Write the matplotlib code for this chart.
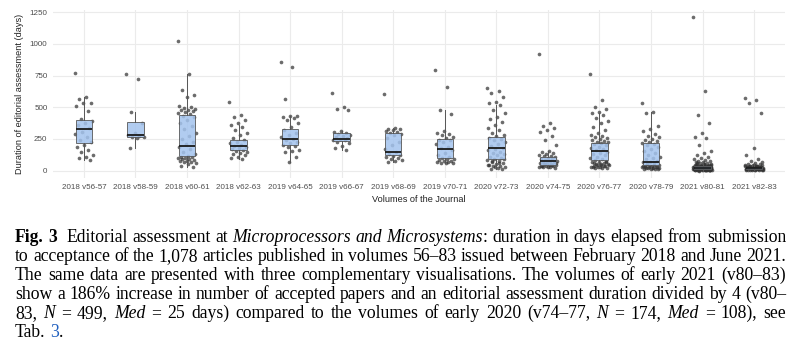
import matplotlib
matplotlib.use("Agg")
import matplotlib.pyplot as plt

# volumes of the journal (x categories)
volumes = ["2018 v56-57", "2018 v58-59", "2018 v60-61", "2018 v62-63",
           "2019 v64-65", "2019 v66-67", "2019 v68-69", "2019 v70-71",
           "2020 v72-73", "2020 v74-75", "2020 v76-77", "2020 v78-79",
           "2021 v80-81", "2021 v82-83"]

# box statistics (days)
q1 = [216, 268, 116, 163, 200, 237, 121, 100, 90, 43, 84, 43, 14, 12]
med = [327, 284, 197, 195, 250, 253, 145, 174, 182, 74, 153, 69, 24, 20]
q3 = [400, 382, 437, 242, 329, 300, 300, 248, 263, 106, 216, 216, 38, 30]
whislo = [84, 179, 27, 90, 65, 163, 71, 58, 10, 22, 20, 12, 1, 2]
whishi = [579, 461, 765, 360, 435, 310, 335, 479, 520, 155, 453, 466, 72, 58]

# individual articles (duration in days), one list per volume pair
v56_57 = [769, 579, 563, 537, 532, 511, 474, 406, 395, 374, 360, 335, 308, 290,
          268, 242, 230, 203, 190, 163, 150, 124, 110, 98, 84]
v58_59 = [763, 721, 461, 380, 300, 285, 275, 268, 262, 255, 179]
v60_61 = [1026, 765, 640, 600, 580, 510, 500, 492, 485, 480, 478, 470, 465, 455,
          445, 435, 420, 400, 380, 355, 330, 300, 275, 250, 230, 210, 190, 170,
          150, 130, 118, 110, 104, 100, 96, 92, 88, 84, 80, 76, 72, 65, 58, 50,
          40, 27]
v62_63 = [545, 440, 420, 400, 380, 360, 345, 320, 300, 280, 260, 245, 230, 215,
          200, 192, 185, 178, 170, 165, 158, 150, 140, 130, 120, 110, 100, 90]
v64_65 = [860, 816, 566, 435, 430, 422, 415, 400, 380, 345, 320, 300, 280, 265,
          250, 240, 230, 215, 205, 195, 190, 160, 155, 150, 110, 65]
v66_67 = [611, 505, 490, 480, 310, 305, 298, 290, 280, 270, 262, 255, 250, 245,
          238, 230, 215, 195, 175, 163]
v68_69 = [603, 335, 330, 325, 318, 310, 305, 298, 290, 280, 260, 230, 200, 170,
          145, 135, 125, 118, 110, 100, 92, 85, 78, 71]
v70_71 = [795, 663, 479, 445, 310, 300, 290, 280, 265, 255, 245, 240, 230, 210,
          190, 175, 160, 140, 120, 105, 98, 92, 88, 84, 80, 76, 72, 68, 64, 60, 58]
v72_73 = [650, 632, 611, 579, 545, 537, 520, 479, 453, 427, 405, 387, 361, 334,
          321, 295, 280, 270, 260, 250, 240, 225, 210, 195, 180, 170, 160, 150,
          140, 130, 120, 110, 100, 92, 85, 78, 70, 62, 55, 48, 40, 34, 28, 22,
          16, 10, 30, 45, 60, 75, 95]
v74_75 = [921, 374, 350, 335, 320, 305, 270, 240, 200, 155, 145, 138, 130, 124,
          118, 112, 106, 100, 95, 90, 85, 80, 76, 72, 68, 64, 60, 56, 52, 48, 44,
          40, 37, 34, 31, 28, 25, 22, 30, 35, 42, 50, 58]
v76_77 = [761, 558, 500, 484, 466, 453, 440, 413, 395, 374, 348, 321, 300, 282,
          270, 263, 255, 248, 242, 236, 230, 224, 218, 210, 200, 190, 180, 170,
          160, 150, 140, 130, 120, 110, 100, 92, 84, 78, 72, 66, 60, 55, 50, 45,
          40, 36, 32, 28, 24, 20, 22, 26, 30, 35, 42, 48, 54, 62, 70]
v78_79 = [537, 466, 455, 350, 330, 310, 290, 275, 262, 250, 242, 235, 228, 220,
          210, 200, 185, 170, 155, 140, 125, 110, 100, 90, 80, 72, 65, 58, 52, 46,
          40, 36, 32, 28, 25, 22, 19, 16, 14, 12, 15, 18, 21, 24, 27, 30, 34, 38,
          44, 50]
v80_81 = [1210, 629, 440, 379, 300, 263, 258, 203, 158, 140, 125, 110, 100, 92,
          85, 80, 75, 70, 66, 62, 58, 55, 52, 49, 46, 44, 42, 40, 38, 36, 34, 32,
          31, 30, 29, 28, 27, 26, 25, 24, 23, 22, 21, 20, 19, 18, 17, 16, 15, 14,
          13, 12, 11, 10, 9, 8, 7, 6, 5, 4, 3, 2, 1, 45, 41, 37, 33, 29, 25, 21,
          17, 13, 9, 5, 3, 35, 31, 27, 23, 19, 15, 11, 7, 4, 2, 28, 24, 20, 16,
          12, 8, 6, 30, 26, 22, 18, 14, 10, 50, 60, 39, 34, 26, 18, 12, 7, 3,
          43, 36, 29, 22, 15, 9, 4, 32, 24, 16, 8, 2]
v82_83 = [571, 558, 537, 458, 182, 120, 95, 80, 70, 62, 56, 50, 46, 42, 38, 35,
          32, 30, 28, 26, 24, 22, 20, 18, 16, 14, 12, 10, 8, 6, 5, 4, 3, 2, 36,
          33, 29, 25, 21, 17, 13, 9, 7, 31, 27, 23, 19, 15, 11, 40, 44, 48, 24,
          20, 16, 12, 34, 26, 18, 10, 4, 28, 22, 14, 6]
articles = [v56_57, v58_59, v60_61, v62_63, v64_65, v66_67, v68_69, v70_71,
            v72_73, v74_75, v76_77, v78_79, v80_81, v82_83]

y_ticks = [0, 250, 500, 750, 1000, 1250]

caption = [
    "#Fig. 3#  Editorial assessment at _Microprocessors and Microsystems_: duration in days elapsed from submission",
    "to acceptance of the 1,078 articles published in volumes 56\u201383 issued between February 2018 and June 2021.",
    "The same data are presented with three complementary visualisations. The volumes of early 2021 (v80\u201383)",
    "show a 186% increase in number of accepted papers and an editorial assessment duration divided by 4 (v80\u2013",
    "83, _N_ = 499, _Med_ = 25 days) compared to the volumes of early 2020 (v74\u201377, _N_ = 174, _Med_ = 108), see",
    "Tab. @3@.",
]

W, H = 800, 356
fig = plt.figure(figsize=(W / 100, H / 100), dpi=100)
ax = fig.add_axes([53 / W, 1 - 178.3 / H, 732 / W, 168.5 / H])

# jittered points (drawn first, the boxes sit on top with some transparency)
for i, vals in enumerate(articles):
    xs = [i + ((k * 0.618034) % 1 - 0.5) * 0.36 for k in range(len(vals))]
    ax.scatter(xs, vals, s=7, color="#333333", alpha=0.72, linewidths=0, zorder=2)

stats = [dict(med=med[i], q1=q1[i], q3=q3[i], whislo=whislo[i], whishi=whishi[i])
         for i in range(len(volumes))]
ax.bxp(stats, positions=range(len(volumes)), widths=0.32, patch_artist=True,
       showcaps=False, showfliers=False, manage_ticks=False,
       boxprops=dict(facecolor="#a4c4ee", edgecolor="#555555", linewidth=0.7, alpha=0.85),
       whiskerprops=dict(color="#555555", linewidth=0.7),
       medianprops=dict(color="#1a1a1a", linewidth=1.3), zorder=3)

ax.set_xlim(-0.6, len(volumes) - 0.4)
ax.set_ylim(-60.5, 1270)
ax.set_xticks(range(len(volumes)))
ax.set_xticklabels(volumes)
ax.set_yticks(y_ticks)
ax.grid(True, color="#ebebeb", linewidth=0.8)
ax.set_axisbelow(True)
for s in ax.spines.values():
    s.set_visible(False)
ax.tick_params(length=0, labelsize=5.8, labelcolor="#4d4d4d", pad=4)
for lab in ax.get_xticklabels() + ax.get_yticklabels():
    lab.set_family("Liberation Sans")
ax.set_xlabel("Volumes of the Journal", fontsize=6.6, family="Liberation Sans",
              color="#222222", labelpad=3)
ax.set_ylabel("Duration of editorial assessment (days)", fontsize=6.6,
              family="Liberation Sans", color="#222222", labelpad=4)


# caption, justified like the source document
def parse(line):
    words, word, seg = [], [], ""
    st = dict(italic=False, bold=False, blue=False)
    marks = {"_": "italic", "#": "bold", "@": "blue"}
    for ch in line:
        if ch in marks or ch == " ":
            if seg:
                word.append((seg, dict(st)))
                seg = ""
            if ch == " ":
                if word:
                    words.append(word)
                    word = []
                elif words:
                    words[-1].append((" ", dict(st)))
            else:
                st[marks[ch]] = not st[marks[ch]]
        else:
            seg += ch
    if seg:
        word.append((seg, dict(st)))
    if word:
        words.append(word)
    return words


fig.canvas.draw()
renderer = fig.canvas.get_renderer()
cap_size = 12.0
plain = dict(italic=False, bold=False, blue=False)


def props(st):
    return dict(family="Liberation Serif", fontsize=cap_size,
                style="italic" if st["italic"] else "normal",
                weight="bold" if st["bold"] else "normal",
                color="#1f5fbf" if st["blue"] else "black")


def width(txt, st):
    t = fig.text(0, 0, txt.replace(" ", "\u00a0"), **props(st))
    w = t.get_window_extent(renderer).width
    t.remove()
    return w


def natural(words):
    sp = width("a a", plain) - width("aa", plain)
    return sum(width(t, st) for w in words for t, st in w) + sp * (len(words) - 1)


x0, x1 = 15, 786
parsed = [parse(line) for line in caption]
# size the font so that the widest line fills the text block with plain spacing
widest = max(natural(p) for p in parsed[:-1])
cap_size = cap_size * (x1 - x0) / widest
sp = width("a a", plain) - width("aa", plain)

baselines = [242, 261, 280, 299, 318, 337]
for li, words in enumerate(parsed):
    ws = [[width(t, st) for t, st in w] for w in words]
    total = sum(sum(w) for w in ws)
    if li < len(parsed) - 1:
        gap = (x1 - x0 - total) / (len(words) - 1)
    else:
        gap = sp
    x = x0
    for w, wl in zip(words, ws):
        for (t, st), wd in zip(w, wl):
            fig.text(x / W, 1 - baselines[li] / H, t.replace(" ", "\u00a0"),
                     va="baseline", **props(st))
            x += wd
        x += gap

fig.savefig("out.png", dpi=100)
